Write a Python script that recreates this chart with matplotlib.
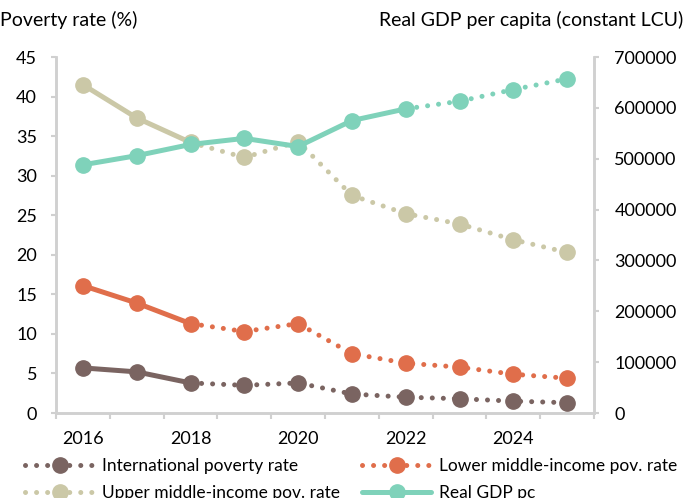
import matplotlib
matplotlib.use("Agg")
import matplotlib.pyplot as plt
from matplotlib.lines import Line2D

plt.rcParams['font.family'] = ['Lato', 'DejaVu Sans']

years = [2016, 2017, 2018, 2019, 2020, 2021, 2022, 2023, 2024, 2025]
year_labels = ['2016', '', '2018', '', '2020', '', '2022', '', '2024', '']
intl_pov = [5.7, 5.2, 3.8, 3.5, 3.8, 2.4, 2.0, 1.8, 1.5, 1.3]
lmic_pov = [16.1, 13.9, 11.3, 10.3, 11.3, 7.5, 6.3, 5.8, 4.9, 4.4]
umic_pov = [41.5, 37.3, 34.2, 32.3, 34.3, 27.5, 25.2, 23.9, 21.9, 20.3]
gdp_pc = [488000, 506000, 528000, 540000, 524000, 575000, 598000, 613000, 636000, 657000]
pov_actual_end = 2   # index of last non-projected poverty value
gdp_actual_end = 6   # index of last non-projected GDP value

c_intl = '#7a6461'
c_lmic = '#e06e4b'
c_umic = '#cbc8a7'
c_gdp = '#7fd2ba'
spine_c = '#d0d0d0'

fig = plt.figure(figsize=(6.83, 4.98), dpi=100)
ax = fig.add_axes([56/683, 1-413/498, (594-56)/683, (413-57)/498])
ax2 = ax.twinx()

x = list(range(len(years)))
lw = 3.6
ms = 11
dot = (0, (0.01, 2.2))

def draw(a, vals, color, split):
    a.plot(x[:split+1], vals[:split+1], color=color, lw=lw, solid_capstyle='round', zorder=2)
    a.plot(x[split:], vals[split:], color=color, lw=lw, linestyle=dot,
           dash_capstyle='round', zorder=2)
    a.plot(x, vals, linestyle='none', marker='o', ms=ms, color=color, zorder=3)

draw(ax, umic_pov, c_umic, pov_actual_end)
draw(ax, lmic_pov, c_lmic, pov_actual_end)
draw(ax, intl_pov, c_intl, pov_actual_end)
draw(ax2, gdp_pc, c_gdp, gdp_actual_end)

ax.set_xlim(-0.5, len(years)-0.5)
ax.set_ylim(0, 45)
ax.set_yticks(range(0, 50, 5))
ax2.set_ylim(0, 700000)
ax2.set_yticks(range(0, 700001, 100000))
ax2.set_yticklabels([str(v) for v in range(0, 700001, 100000)])

ax.set_xticks(x)
ax.set_xticklabels(year_labels)
ax.set_xticks([i - 0.5 for i in range(len(years)+1)], minor=True)
ax.tick_params(axis='x', which='major', length=0, labelsize=13, pad=13)
ax.tick_params(axis='x', which='minor', length=4, color=spine_c, width=1.5)
ax.tick_params(axis='y', length=3.6, color=spine_c, width=1.5, labelsize=13, pad=10)
ax2.tick_params(axis='y', length=3.6, color=spine_c, width=1.5, labelsize=13, pad=11)

for a in (ax, ax2):
    a.spines['top'].set_visible(False)
    for s in ('left', 'right', 'bottom'):
        a.spines[s].set_color(spine_c)
        a.spines[s].set_linewidth(1.8)

fig.text(0.0, 1-20/498, 'Poverty rate (%)', fontsize=14, ha='left', va='center')
fig.text(1.0, 1-20/498, 'Real GDP per capita (constant LCU)', fontsize=14, ha='right', va='center')

def handle(color, ls):
    return Line2D([0], [0], color=color, lw=lw, linestyle=ls, marker='o', ms=ms,
                  dash_capstyle='round', solid_capstyle='round')

leg_kw = dict(loc='center left', frameon=False, fontsize=12.5, handlelength=4.0,
              handletextpad=0.46, labelspacing=0.68, borderaxespad=0, borderpad=0)
leg1 = fig.legend([handle(c_intl, dot), handle(c_umic, dot)],
                  ['International poverty rate', 'Upper middle-income pov. rate'],
                  bbox_to_anchor=(25/683, 1-479.5/498), **leg_kw)
leg2 = fig.legend([handle(c_lmic, dot), handle(c_gdp, '-')],
                  ['Lower middle-income pov. rate', 'Real GDP pc'],
                  bbox_to_anchor=(362/683, 1-479.5/498), **leg_kw)

fig.savefig('out.png', dpi=100)
